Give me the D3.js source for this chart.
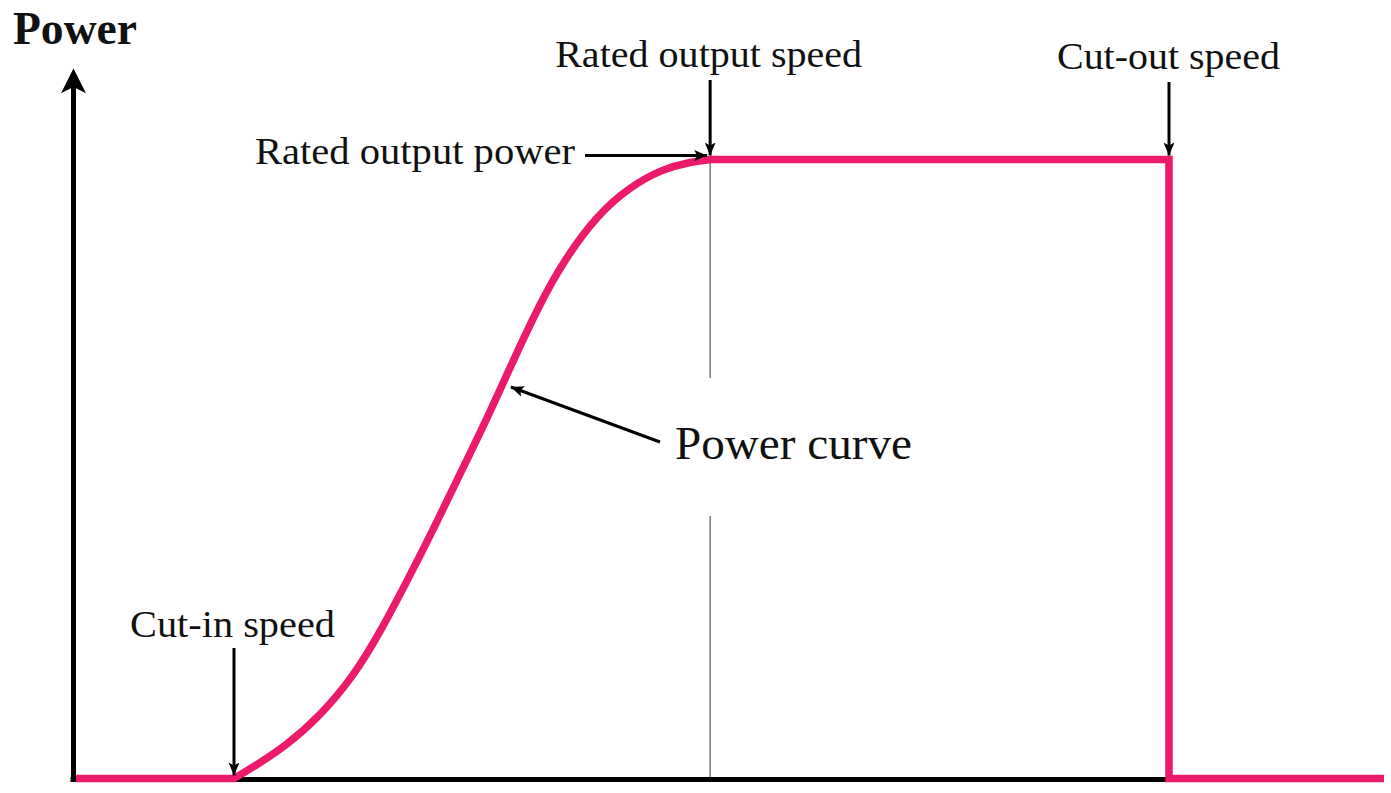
<!DOCTYPE html>
<html>
<head>
<meta charset="utf-8">
<script src="https://cdn.jsdelivr.net/npm/d3@7"></script>
<style>
  html, body { margin: 0; padding: 0; background: #fff; }
  svg { display: block; }
  text { font-family: "Liberation Serif", "Times New Roman", serif; fill: #111; }
</style>
</head>
<body>
<svg id="chart" width="1391" height="793"></svg>
<script>
// ---- Data (normalised wind speed / normalised power) ----
const cutInSpeed = 3.07;
const ratedSpeed = 12.15;
const cutOutSpeed = 20.9;
const maxSpeed = 25;
const ratedPower = 1;

// ramp between cut-in and rated speed
const rampSpeed = [3.07, 3.43, 4.08, 4.71, 5.34, 5.85, 6.37, 6.87, 7.38, 7.90, 8.37, 8.91, 9.34, 9.99, 10.62, 11.25, 11.77, 12.15];
const rampPower = [0.000, 0.018, 0.054, 0.101, 0.164, 0.235, 0.319, 0.402, 0.492, 0.582, 0.671, 0.768, 0.834, 0.910, 0.956, 0.985, 0.996, 1.000];

const titleLabel = "Power";
const annotationLabels = ["Rated output speed", "Cut-out speed", "Rated output power", "Cut-in speed", "Power curve"];

// ---- Layout ----
const svg = d3.select("#chart");
const x = d3.scaleLinear().domain([0, maxSpeed]).range([73, 1384]);
const y = d3.scaleLinear().domain([0, ratedPower]).range([778.5, 159.5]);
const pink = "#EC1A6A";

// arrow marker
const defs = svg.append("defs");
defs.append("marker")
  .attr("id", "arrow")
  .attr("viewBox", "0 0 13 11")
  .attr("refX", 13).attr("refY", 5.5)
  .attr("markerWidth", 13).attr("markerHeight", 11)
  .attr("markerUnits", "userSpaceOnUse")
  .attr("orient", "auto")
  .append("path")
  .attr("d", "M0,0 L13,5.5 L0,11 L3,5.5 Z")
  .attr("fill", "#000");

// thin guide line at rated speed (broken around the label)
const guideSegs = [[ratedPower, 0.647], [0.424, 0]];
svg.selectAll("line.guide").data(guideSegs).enter().append("line")
  .attr("class", "guide")
  .attr("x1", x(ratedSpeed)).attr("x2", x(ratedSpeed))
  .attr("y1", d => y(d[0])).attr("y2", d => y(d[1]))
  .attr("stroke", "#555").attr("stroke-width", 1.2);

// axes
svg.append("line")
  .attr("x1", x(0) - 2.5).attr("x2", x(cutOutSpeed))
  .attr("y1", y(0) + 1).attr("y2", y(0) + 1)
  .attr("stroke", "#000").attr("stroke-width", 5);
svg.append("line")
  .attr("x1", x(0) + 0.5).attr("x2", x(0) + 0.5)
  .attr("y1", y(0) + 3.5).attr("y2", y(1.12))
  .attr("stroke", "#000").attr("stroke-width", 5);
svg.append("path")
  .attr("d", `M${x(0)+0.5},${y(1.147)} L${x(0)+13},${y(1.107)} L${x(0)+0.5},${y(1.117)} L${x(0)-12},${y(1.107)} Z`)
  .attr("fill", "#000");

// power curve
const pre = [[x(0) + 3, y(0)], [x(cutInSpeed), y(0)]];
const ramp = rampSpeed.map((s, i) => [x(s), y(rampPower[i])]);
const post = [[x(ratedSpeed), y(ratedPower)], [x(cutOutSpeed), y(ratedPower)], [x(cutOutSpeed), y(0)], [x(maxSpeed), y(0)]];
const lin = d3.line();
const smooth = d3.line().curve(d3.curveBasis);
const dPath = lin(pre) + smooth(ramp).replace(/^M[^CL]*/, "") + lin(post).replace(/^M/, "L");
svg.append("path")
  .attr("d", dPath)
  .attr("fill", "none")
  .attr("stroke", pink)
  .attr("stroke-width", 7.5)
  .attr("stroke-linejoin", "miter");

// annotation arrows
function arrow(x1, y1, x2, y2) {
  svg.append("line")
    .attr("x1", x1).attr("y1", y1).attr("x2", x2).attr("y2", y2)
    .attr("stroke", "#000").attr("stroke-width", 3)
    .attr("marker-end", "url(#arrow)");
}
arrow(x(ratedSpeed), 80, x(ratedSpeed), y(ratedPower) - 4);
arrow(x(cutOutSpeed), 82, x(cutOutSpeed), y(ratedPower) - 4);
arrow(585, y(ratedPower) - 4, x(ratedSpeed) - 3, y(ratedPower) - 4);
arrow(x(cutInSpeed), 648, x(cutInSpeed), y(0) - 3);
arrow(660, 442, x(8.35), 387);

// text
svg.append("text")
  .attr("x", 13).attr("y", 44)
  .attr("font-size", 46).attr("font-weight", "bold")
  .attr("textLength", 124).attr("lengthAdjust", "spacingAndGlyphs")
  .text(titleLabel);

const labelSpecs = [
  { t: annotationLabels[0], x: x(ratedSpeed) - 1.5, y: 67, anchor: "middle", w: 307, fs: 37 },
  { t: annotationLabels[1], x: x(cutOutSpeed) - 0.5, y: 69, anchor: "middle", w: 223, fs: 37 },
  { t: annotationLabels[2], x: 575, y: 164, anchor: "end", w: 320, fs: 37 },
  { t: annotationLabels[3], x: x(cutInSpeed) - 1.5, y: 637, anchor: "middle", w: 205, fs: 37 },
  { t: annotationLabels[4], x: 675, y: 459, anchor: "start", w: 237, fs: 46 }
];
svg.selectAll("text.lab").data(labelSpecs).enter().append("text")
  .attr("class", "lab")
  .attr("x", d => d.x).attr("y", d => d.y)
  .attr("text-anchor", d => d.anchor)
  .attr("font-size", d => d.fs)
  .attr("textLength", d => d.w)
  .attr("lengthAdjust", "spacingAndGlyphs")
  .text(d => d.t);
</script>
</body>
</html>
